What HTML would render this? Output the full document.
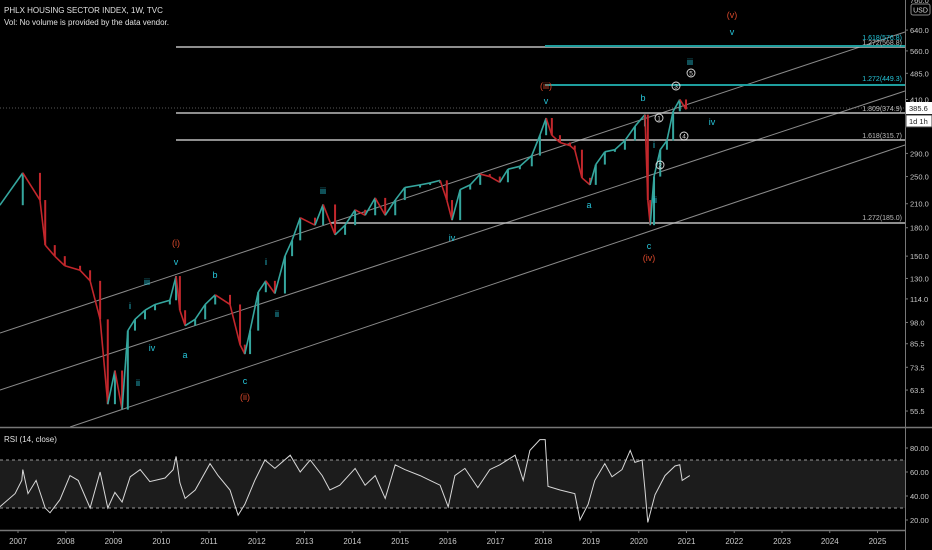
<!DOCTYPE html>
<html><head><meta charset="utf-8"><style>
html,body{margin:0;padding:0;background:#000;width:932px;height:550px;overflow:hidden}
svg{display:block;font-family:"Liberation Sans",sans-serif}
</style></head><body>
<svg id="chart" width="932" height="550" viewBox="0 0 932 550">
<rect width="932" height="550" fill="#000"/>
<g id="rsiBand"></g>
<g id="grid"></g>
<g id="price"></g>
<g id="rsi"></g>
<g id="anno"></g>
<g id="axes"></g>
</svg>
<script>
const priceDates=[2006.62,2007.10,2007.46,2007.57,2007.77,2007.98,2008.30,2008.51,2008.72,2008.88,2009.03,2009.18,2009.30,2009.45,2009.66,2009.87,2010.18,2010.31,2010.39,2010.50,2010.71,2010.92,2011.13,2011.44,2011.65,2011.75,2011.86,2012.03,2012.19,2012.38,2012.59,2012.74,2012.91,2013.22,2013.39,2013.64,2013.85,2014.06,2014.27,2014.48,2014.69,2014.90,2015.10,2015.42,2015.63,2015.84,2015.98,2016.09,2016.26,2016.47,2016.68,2016.88,2017.09,2017.26,2017.51,2017.76,2017.93,2018.06,2018.18,2018.35,2018.56,2018.66,2018.81,2018.98,2019.10,2019.29,2019.50,2019.71,2019.92,2020.13,2020.19,2020.24,2020.32,2020.45,2020.59,2020.72,2020.86,2020.99];
const priceCloses=[208,256,215,161,150,141,137,128,100,58,72,56,93,100,106,110,113,132,106,96,100,110,117,110,85,80,93,119,128,118,150,166,192,183,209,172,183,202,195,218,195,215,233,237,240,244,215,189,230,237,254,250,241,262,267,286,326,364,326,311,305,297,248,237,270,293,297,315,345,372,215,183,250,297,315,380,410,385];
const rsiDates=[2006.62,2006.94,2007.08,2007.10,2007.21,2007.38,2007.57,2007.67,2007.88,2008.09,2008.26,2008.51,2008.72,2008.88,2009.03,2009.18,2009.35,2009.56,2009.76,2010.08,2010.25,2010.31,2010.39,2010.50,2010.71,2011.02,2011.19,2011.44,2011.61,2011.75,2011.96,2012.17,2012.38,2012.70,2012.91,2013.12,2013.37,2013.53,2013.74,2014.06,2014.27,2014.48,2014.69,2014.90,2015.10,2015.42,2015.63,2015.84,2016.01,2016.15,2016.36,2016.63,2016.88,2017.09,2017.41,2017.58,2017.72,2017.93,2018.04,2018.10,2018.35,2018.66,2018.77,2018.94,2019.08,2019.29,2019.44,2019.65,2019.82,2019.92,2020.07,2020.13,2020.19,2020.34,2020.55,2020.76,2020.86,2020.91,2021.07];
const rsiValues=[31,42,53,62,42,53,30,26,37,57,53,30,60,30,43,35,56,62,52,55,62,73,51,38,45,67,57,45,24,33,53,70,63,74,60,70,57,45,49,63,49,57,38,66,62,57,53,49,31,57,63,47,62,66,74,53,78,87,87,48,45,42,20,33,53,67,56,62,78,68,70,45,18,41,57,65,66,53,57];
const priceTicks=[640,560,485,410,290,250,210,180,150,130,114,98,85.5,73.5,63.5,55.5];
const rsiTicks=[80,60,40,20];
const yearTicks=[2007,2008,2009,2010,2011,2012,2013,2014,2015,2016,2017,2018,2019,2020,2021,2022,2023,2024,2025];
const NS="http://www.w3.org/2000/svg";
const xOf=t=>18+47.75*(t-2007);
const yOf=p=>1036.8-155.8*Math.log(p);
const yR=v=>460+(70-v)*1.2;
function mk(parent,tag,attrs,text){const e=document.createElementNS(NS,tag);for(const k in attrs)e.setAttribute(k,attrs[k]);if(text!==undefined)e.textContent=text;document.getElementById(parent).appendChild(e);return e;}
mk('rsiBand','rect',{x:0,y:yR(70),width:905,height:yR(30)-yR(70),fill:'#1c1c1c'});
mk('rsiBand','line',{x1:0,x2:905,y1:yR(70),y2:yR(70),stroke:'#9a9a9a','stroke-dasharray':'3,3','stroke-width':1});
mk('rsiBand','line',{x1:0,x2:905,y1:yR(30),y2:yR(30),stroke:'#9a9a9a','stroke-dasharray':'3,3','stroke-width':1});
[[0,333,905,32],[0,390,905,91],[70,427,905,145]].forEach((l,i)=>{const e=mk('grid','line',{x1:l[0],y1:l[1],x2:l[2],y2:l[3],stroke:'#8a8a8a','stroke-width':1});

});
const fibs=[[176,47,'#bdbdbd',1.5],[176,113,'#bdbdbd',1.5],[176,140,'#bdbdbd',1.5],[330,223,'#bdbdbd',1.5],[545,46,'#1e9e9e',2],[545,85,'#1e9e9e',2]];
fibs.forEach((f,i)=>{const e=mk('grid','line',{x1:f[0],x2:905,y1:f[1],y2:f[1],stroke:f[2],'stroke-width':f[3]});

});
mk('grid','line',{x1:0,x2:905,y1:108,y2:108,stroke:'#777','stroke-width':0.8,'stroke-dasharray':'1,2'});
priceDates.forEach((t,i)=>{if(i===0)return;const c=priceCloses[i];const o=priceCloses[i-1];
 const x0=xOf(priceDates[i-1]),x=xOf(t);
 const up=c>=o;const col=up?'#35a69e':'#c2272c';
 const seg=mk('price','line',{x1:x0,y1:yOf(o),x2:x,y2:yOf(c),stroke:col,'stroke-width':1.6});
 
 
 const yo=yOf(o),yc=yOf(c);
 const e=mk('price','rect',{x:x-1,y:Math.min(yo,yc),width:2,height:Math.max(1,Math.abs(yo-yc)),fill:col});
 
 });
const rl=mk('rsi','polyline',{points:rsiDates.map((t,i)=>xOf(t).toFixed(1)+','+yR(rsiValues[i]).toFixed(1)).join(' '),fill:'none',stroke:'#d8d8d8','stroke-width':1});


const C='#26c6da',R='#d9482b';
const labels=[['iii',147,285,C],['i',130,309,C],['iv',152,351,C],['ii',138,386,C],['v',176,265,C],['(i)',176,246,R],['b',215,278,C],['a',185,358,C],['c',245,384,C],['(ii)',245,400,R],['i',266,265,C],['ii',277,317,C],['iii',323,194,C],['iv',452,241,C],['a',589,208,C],['v',546,104,C],['(iii)',546,89,R],['b',643,101,C],['c',649,249,C],['(iv)',649,261,R],['ii',655,203,C],['i',654,148,C],['iv',712,125,C],['iii',690,65,C],['v',732,35,C],['(v)',732,18,R]];
labels.forEach(l=>{const e=mk('anno','text',{x:l[1],y:l[2],fill:l[3],'font-size':9,'text-anchor':'middle'},l[0]);

});
[['1',659,118],['2',660,165],['3',676,86],['4',684,136],['5',691,73]].forEach(c=>{
 const g=mk('anno','circle',{cx:c[1],cy:c[2],r:4,fill:'none',stroke:'#ddd','stroke-width':0.9});
 
 
 mk('anno','text',{x:c[1],y:c[2]+2.5,fill:'#ddd','font-size':6.5,'text-anchor':'middle'},c[0]);});
[['1.618(576.8)',40,'#26c6da'],['1.272(568.8)',45,'#bdbdbd'],['1.272(449.3)',81,'#26c6da'],['1.809(374.9)',111,'#bdbdbd'],['1.618(315.7)',138,'#bdbdbd'],['1.272(185.0)',220,'#bdbdbd']].forEach(f=>{
 const e=mk('anno','text',{x:902,y:f[1],fill:f[2],'font-size':7,'text-anchor':'end'},f[0]);
 
 });
mk('axes','line',{x1:905.5,x2:905.5,y1:0,y2:550,stroke:'#777','stroke-width':1});
mk('axes','line',{x1:0,x2:932,y1:427.5,y2:427.5,stroke:'#777','stroke-width':1.5});
mk('axes','line',{x1:0,x2:905,y1:530.5,y2:530.5,stroke:'#777','stroke-width':1.5});
priceTicks.forEach(p=>{const y=yOf(p);mk('axes','line',{x1:905,x2:908,y1:y,y2:y,stroke:'#777'});
 const e=mk('axes','text',{x:910,y:y+3,fill:'#c8c8c8','font-size':7.5},p.toFixed(1));
 
 });
mk('axes','text',{x:910,y:3,fill:'#c8c8c8','font-size':7.5},'760.0');
rsiTicks.forEach(v=>{const y=yR(v);mk('axes','line',{x1:905,x2:908,y1:y,y2:y,stroke:'#777'});
 const e=mk('axes','text',{x:910,y:y+3,fill:'#c8c8c8','font-size':7.5},v.toFixed(2));
 
 });
yearTicks.forEach(yr=>{const x=xOf(yr);mk('axes','line',{x1:x,x2:x,y1:530,y2:533,stroke:'#777'});
 const e=mk('axes','text',{x:x,y:544,fill:'#c8c8c8','font-size':8,'text-anchor':'middle'},String(yr));
 
 });
</script>
<svg style="position:absolute;left:0;top:0" width="932" height="550">
<text x="4" y="13" fill="#e0e0e0" font-size="8" font-family="Liberation Sans,sans-serif">PHLX HOUSING SECTOR INDEX, 1W, TVC</text>
<text x="4" y="25" fill="#e0e0e0" font-size="8" font-family="Liberation Sans,sans-serif">Vol: No volume is provided by the data vendor.</text>
<text x="4" y="442" fill="#e0e0e0" font-size="8" font-family="Liberation Sans,sans-serif">RSI (14, close)</text>
<rect x="911" y="4" width="19" height="11" rx="2" fill="#000" stroke="#888"/>
<text x="920.5" y="12.5" fill="#ddd" font-size="7" text-anchor="middle" font-family="Liberation Sans,sans-serif">USD</text>
<rect x="906" y="102" width="26" height="12" fill="#fff"/>
<text x="909" y="111" fill="#222" font-size="7.5" font-family="Liberation Sans,sans-serif">385.6</text>
<rect x="906" y="115" width="26" height="12" fill="#fff" stroke="#444"/>
<text x="909" y="124" fill="#222" font-size="7.5" font-family="Liberation Sans,sans-serif">1d 1h</text>
</svg>
</body></html>
